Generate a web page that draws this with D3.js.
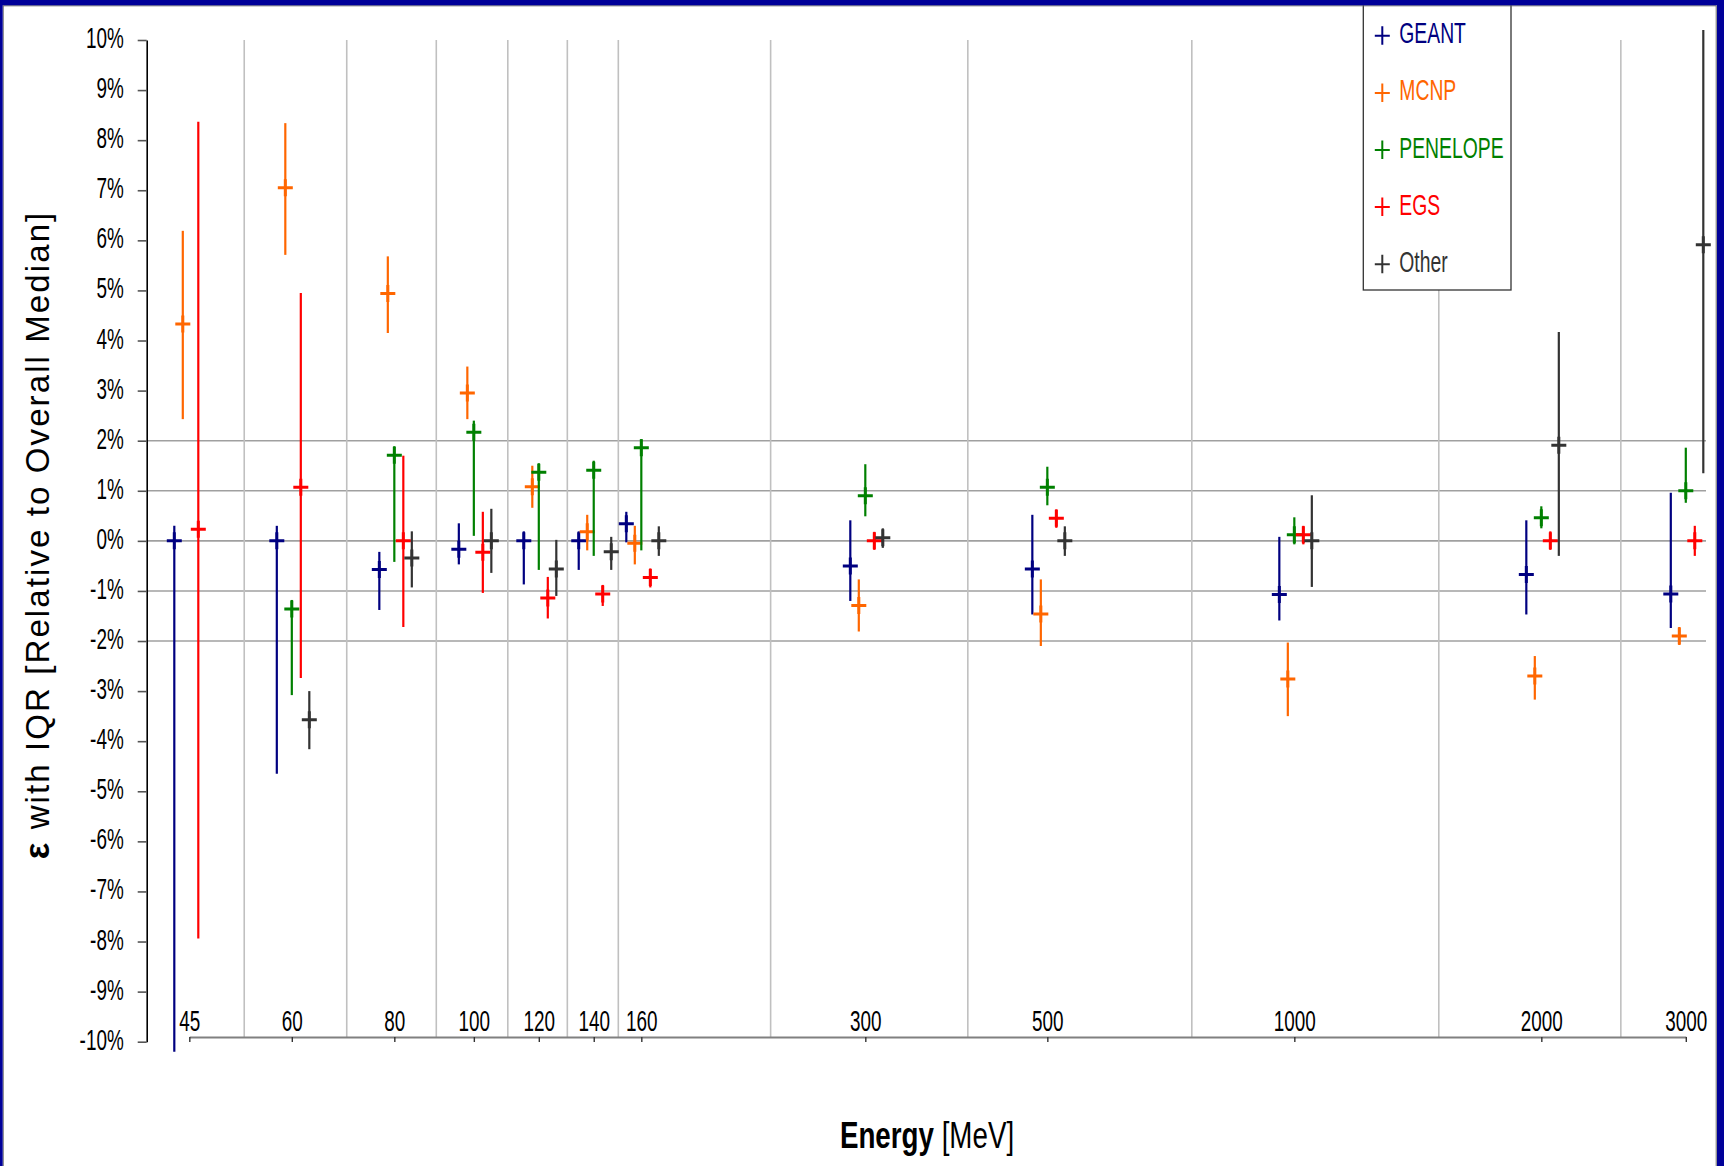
<!DOCTYPE html>
<html>
<head>
<meta charset="utf-8">
<script src="https://cdn.jsdelivr.net/npm/d3@7"></script>
<style>
  html, body { margin: 0; padding: 0; background: #fff; }
  svg { display: block; }
  text { font-family: "Liberation Sans", Arial, sans-serif; }
</style>
</head>
<body>
<svg id="chart" width="1724" height="1166"></svg>
<script>
// ---- data: deviation of each code group from the overall median, in % ----
const energies = [45, 60, 80, 100, 120, 140, 160, 300, 500, 1000, 2000, 3000];
const seriesNames = ["GEANT", "MCNP", "PENELOPE", "EGS", "Other"];
const seriesColors = ["#000080", "#FF6600", "#008000", "#FF0000", "#333333"];

const geantMedian = [0, 0, -0.57, -0.17, 0, 0, 0.34, -0.5, -0.56, -1.07, -0.67, -1.06];
const geantLow    = [-10.2, -4.65, -1.38, -0.47, -0.87, -0.58, -0.03, -1.2, -1.47, -1.59, -1.47, -1.74];
const geantHigh   = [0.3, 0.3, -0.22, 0.35, 0.19, 0.19, 0.58, 0.41, 0.52, 0.08, 0.41, 0.96];

const mcnpMedian = [4.33, 7.05, 4.94, 2.95, 1.08, 0.18, -0.05, -1.29, -1.46, -2.76, -2.7, -1.9];
const mcnpLow    = [2.43, 5.71, 4.15, 2.43, 0.66, -0.19, -0.47, -1.81, -2.1, -3.5, -3.17, -2.08];
const mcnpHigh   = [6.19, 8.34, 5.68, 3.48, 1.5, 0.52, 0.3, -0.77, -0.77, -2.03, -2.3, -1.72];

const penelopeMedian = [null, -1.36, 1.71, 2.17, 1.37, 1.41, 1.86, 0.9, 1.07, 0.12, 0.46, 1.0];
const penelopeLow    = [null, -3.08, -0.42, 0.1, -0.58, -0.3, -0.19, 0.49, 0.71, -0.07, 0.25, 0.76];
const penelopeHigh   = [null, -1.18, 1.89, 2.4, 1.55, 1.6, 2.03, 1.53, 1.48, 0.47, 0.69, 1.86];

const egsMedian = [0.23, 1.07, 0, -0.23, -1.14, -1.06, -0.73, 0, 0.45, 0.12, 0, 0];
const egsLow    = [-7.94, -2.74, -1.72, -1.04, -1.55, -1.3, -0.93, -0.18, 0.26, -0.07, -0.18, -0.3];
const egsHigh   = [8.37, 4.95, 1.7, 0.58, -0.72, -0.88, -0.55, 0.18, 0.63, 0.3, 0.19, 0.3];

const otherMedian = [null, -3.57, -0.34, 0, -0.56, -0.22, 0, 0.06, 0, 0, 1.91, 5.91];
const otherLow    = [null, -4.16, -0.93, -0.64, -1.1, -0.58, -0.3, -0.14, -0.3, -0.92, -0.3, 1.35];
const otherHigh   = [null, -3.0, 0.19, 0.64, 0.02, 0.08, 0.29, 0.25, 0.29, 0.91, 4.17, 10.2];

const yTickValues = d3.range(-10, 11, 1);
const yGridValues = [-2, -1, 0, 1, 2];

const medians = [geantMedian, mcnpMedian, penelopeMedian, egsMedian, otherMedian];
const lows    = [geantLow, mcnpLow, penelopeLow, egsLow, otherLow];
const highs   = [geantHigh, mcnpHigh, penelopeHigh, egsHigh, otherHigh];

// ---- layout ----
const W = 1724, H = 1166;
const X_LEFT = 189.3, X_RIGHT = 1685.8;   // pixel span of the energy axis
const Y_TOP = 40, Y_BOTTOM = 1041.7;      // pixel span of the % axis
const Y_AXIS_X = 146.7;
const X_AXIS_Y = 1037;
const PLOT_RIGHT = 1706;
const DODGE = [-15, -6.5, 0, 9, 17.5];    // horizontal offset of each code group
const NARROW = 0.63;                      // horizontal squeeze of tick text

const svg = d3.select("#chart");

const x = d3.scaleLog().domain([45, 3000]).range([X_LEFT, X_RIGHT]);
const y = d3.scaleLinear().domain([-10, 10]).range([Y_BOTTOM, Y_TOP]);

// page background
svg.append("rect").attr("x", 0).attr("y", 0).attr("width", W).attr("height", H).attr("fill", "#fff");

// horizontal grid (only around zero)
svg.append("g").selectAll("line").data(yGridValues).join("line")
  .attr("x1", Y_AXIS_X).attr("x2", PLOT_RIGHT)
  .attr("y1", d => y(d)).attr("y2", d => y(d))
  .attr("stroke", "#a0a0a0").attr("stroke-width", 1.6);

// vertical separators halfway between neighbouring energies
const mids = d3.pairs(energies).map(([a, b]) => (a + b) / 2);
svg.append("g").selectAll("line").data(mids).join("line")
  .attr("x1", d => x(d)).attr("x2", d => x(d))
  .attr("y1", Y_TOP).attr("y2", X_AXIS_Y)
  .attr("stroke", "#c0c0c0").attr("stroke-width", 1.6);

// y axis
const yAxis = svg.append("g").attr("transform", `translate(${Y_AXIS_X},0)`)
  .call(d3.axisLeft(y).tickValues(yTickValues).tickSize(9).tickSizeOuter(0).tickPadding(14)
        .tickFormat(d => d + "%"));
yAxis.select(".domain").attr("stroke", "#000").attr("stroke-width", 1.6);
yAxis.selectAll(".tick line").attr("stroke", "#555").attr("stroke-width", 1.6);
yAxis.selectAll(".tick text")
  .attr("x", null).attr("dy", "0.25em")
  .attr("transform", `translate(-23,0) scale(${NARROW},1)`)
  .style("font-size", "30px").attr("fill", "#000");

// x axis line with ticks hanging below
const xAxis = svg.append("g").attr("transform", `translate(0,${X_AXIS_Y})`)
  .call(d3.axisBottom(x).tickValues(energies).tickSize(5).tickSizeOuter(0).tickFormat(""));
xAxis.select(".domain").attr("stroke", "#808080").attr("stroke-width", 1.8);
xAxis.selectAll(".tick line").attr("stroke", "#333").attr("stroke-width", 1.4);

// energy labels sit just above the axis line
const xLabels = svg.append("g").attr("transform", `translate(0,${X_AXIS_Y})`)
  .call(d3.axisTop(x).tickValues(energies).tickSize(0).tickPadding(6).tickFormat(d3.format("d")));
xLabels.select(".domain").remove();
xLabels.selectAll(".tick text")
  .attr("y", null).attr("dy", null)
  .attr("transform", `translate(0,-6) scale(${NARROW},1)`)
  .style("font-size", "30px").attr("fill", "#000");

// IQR bars and median markers
seriesNames.forEach((name, s) => {
  const pts = energies.map((e, i) => ({ e, m: medians[s][i], lo: lows[s][i], hi: highs[s][i] }))
    .filter(p => p.m !== null);
  const g = svg.append("g").attr("class", "series-" + name);
  const cx = p => x(p.e) + DODGE[s];
  g.selectAll("line.iqr").data(pts).join("line").attr("class", "iqr")
    .attr("x1", cx).attr("x2", cx)
    .attr("y1", p => y(p.lo)).attr("y2", p => y(p.hi))
    .attr("stroke", seriesColors[s]).attr("stroke-width", 2.2);
  g.selectAll("path.med").data(pts).join("path").attr("class", "med")
    .attr("d", p => `M${cx(p) - 7.5},${y(p.m)}h15M${cx(p)},${y(p.m) - 8.5}v17`)
    .attr("fill", "none").attr("stroke", seriesColors[s]).attr("stroke-width", 3);
});

// legend
const legend = svg.append("g");
legend.append("rect").attr("x", 1363.3).attr("y", -5).attr("width", 147.7).attr("height", 295)
  .attr("fill", "#fff").attr("stroke", "#333").attr("stroke-width", 1.3);
seriesNames.forEach((name, s) => {
  const base = 43.3 + s * 57.1;
  legend.append("path")
    .attr("d", `M1374.8,${base - 7.5}h15M1382.3,${base - 17}v18.5`)
    .attr("stroke", seriesColors[s]).attr("stroke-width", 2).attr("fill", "none");
  legend.append("text")
    .attr("transform", `translate(1399.3,${base}) scale(0.645,1)`)
    .style("font-size", "30px").attr("fill", seriesColors[s]).text(name);
});

// axis titles
const xt = svg.append("text")
  .attr("transform", `translate(927,1148) scale(0.75,1)`)
  .attr("text-anchor", "middle").style("font-size", "37px").attr("fill", "#000");
xt.append("tspan").style("font-weight", "bold").text("Energy");
xt.append("tspan").text(" [MeV]");

const yt = svg.append("text")
  .attr("transform", "translate(49,535) rotate(-90)")
  .attr("text-anchor", "middle").style("font-size", "33px").style("letter-spacing", "2.1px")
  .attr("fill", "#000");
yt.append("tspan").style("font-weight", "bold").style("font-size", "35px").text("ε");
yt.append("tspan").text(" with IQR [Relative to Overall Median]");

// slide frame on top
svg.append("rect").attr("x", 3.2).attr("y", 5.8).attr("width", 1713).attr("height", 1170)
  .attr("fill", "none").attr("stroke", "#666").attr("stroke-width", 1);
svg.append("rect").attr("x", 0).attr("y", 0).attr("width", W).attr("height", 5.3).attr("fill", "#000099");
svg.append("rect").attr("x", 0).attr("y", 0).attr("width", 2.7).attr("height", H).attr("fill", "#000099");
svg.append("rect").attr("x", 1717).attr("y", 0).attr("width", 7).attr("height", H).attr("fill", "#000099");
</script>
</body>
</html>
